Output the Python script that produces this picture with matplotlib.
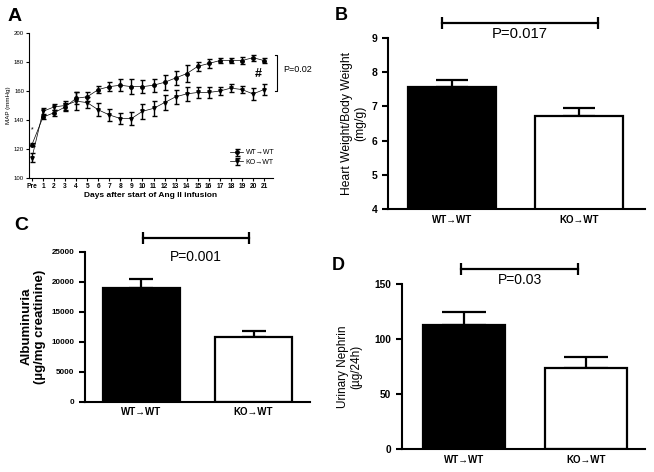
import numpy as np
import matplotlib.pyplot as plt

plt.rcParams['font.family'] = ['Liberation Sans', 'DejaVu Sans']

# panel A: MAP time course
days = ['Pre'] + [str(d) for d in range(1, 22)]
wt_map = [123, 142, 145, 149, 155, 156, 161, 163, 164, 163, 163, 164, 166, 169, 172, 177, 179, 181, 181, 181, 183, 181]
wt_err = [1, 1.5, 2, 3, 4, 3, 2.5, 3, 4, 5, 4.5, 4.5, 5, 5, 6, 3, 3, 2, 2, 2.5, 2, 2]
ko_map = [114, 146, 149, 150, 153, 152, 147, 143.5, 141, 141, 146, 148, 152, 156, 158, 159, 159, 160, 162, 161, 158, 161]
ko_err = [3, 2, 2, 3, 6, 4, 4.5, 4, 4, 4.5, 5, 5, 5, 5, 5, 4, 3.5, 3, 2.5, 2.5, 4, 3.5]

# bar panels
groups = ['WT\u2192WT', 'KO\u2192WT']
hw_mean = [7.57, 6.72]
hw_err = [0.19, 0.22]
alb_mean = [18850, 10850]
alb_err = [1550, 1000]
neph_mean = [113, 74]
neph_err = [11.5, 9.5]

fig = plt.figure(figsize=(6.54, 4.72), dpi=100)

# ---- A ----
axA = fig.add_axes([0.0443, 0.623, 0.373, 0.307])
x = np.arange(len(days))
axA.errorbar(x, wt_map, yerr=wt_err, fmt='o-', color='black', ms=2.5, lw=0.5,
             elinewidth=1.0, capsize=1.8, capthick=1.0, label='WT\u2192WT')
axA.errorbar(x, ko_map, yerr=ko_err, fmt='v-', color='black', ms=2.5, lw=0.5,
             elinewidth=1.0, capsize=1.8, capthick=1.0, label='KO\u2192WT')
axA.set_ylim(100, 200)
axA.set_xlim(-0.27, 21.8)
axA.set_yticks(np.arange(100, 201, 20))
axA.set_xticks(x)
axA.set_xticklabels(days, fontsize=4.8, fontweight='bold')
axA.tick_params(axis='y', labelsize=4.3, length=2.5, width=0.8, pad=1)
axA.tick_params(axis='x', length=2.5, width=0.8, pad=1.5)
for s in ['top', 'right']:
    axA.spines[s].set_visible(False)
for s in ['left', 'bottom']:
    axA.spines[s].set_linewidth(0.8)
axA.set_ylabel('MAP (mmHg)', fontsize=4.5, labelpad=2)
axA.set_xlabel('Days after start of Ang II infusion', fontsize=6, fontweight='bold', labelpad=1)
axA.plot([21.95, 22.17, 22.17, 21.95], [185, 185, 160, 160], color='black', lw=0.8, clip_on=False)
axA.text(22.7, 175, 'P=0.02', fontsize=6.5, va='center', ha='left')
axA.text(20.45, 172, '#', fontsize=9, fontweight='bold', ha='center', va='center')
axA.text(0, 133, '*', fontsize=5, ha='center', va='center')
axA.legend(loc='lower left', bbox_to_anchor=(0.8, 0.04), frameon=False, fontsize=5,
           handlelength=1.8, labelspacing=0.35, handletextpad=0.4)
fig.text(0.011, 0.955, 'A', fontsize=14, fontweight='bold', va='baseline')


def bar_panel(ax, means, errs, ylim, yticks, ylabel, ptext, bracket_y, bracket_x, gap,
              cap, xlim, width, tickfs, labfs, labweight, labpad, pfs):
    pos = np.arange(len(groups))
    ax.bar(pos, means, width=width, color=['black', 'white'], edgecolor='black', linewidth=1.6, zorder=2)
    ax.errorbar(pos, means, yerr=[[0, 0], errs], fmt='none', ecolor='black', elinewidth=1.6,
                capsize=cap, capthick=1.6, zorder=1)
    ax.set_xlim(*xlim)
    ax.set_ylim(*ylim)
    ax.set_yticks(yticks)
    ax.set_xticks(pos)
    ax.set_xticklabels(groups, fontsize=7, fontweight='bold')
    ax.tick_params(axis='x', length=0, pad=4)
    ax.tick_params(axis='y', length=4, width=1.5, labelsize=tickfs)
    for lab in ax.get_yticklabels():
        lab.set_fontweight('bold')
    for s in ['top', 'right']:
        ax.spines[s].set_visible(False)
    for s in ['left', 'bottom']:
        ax.spines[s].set_linewidth(1.5)
    ax.set_ylabel(ylabel, fontsize=labfs, fontweight=labweight, linespacing=1.1, labelpad=labpad)
    ax.plot(bracket_x, [bracket_y, bracket_y], color='black', lw=1.6, clip_on=False,
            marker='|', ms=8, mew=1.6)
    ax.annotate(ptext, (np.mean(bracket_x), bracket_y), xytext=(0, -gap), textcoords='offset points',
                fontsize=pfs, ha='center', va='top', annotation_clip=False)


# ---- B ----
axB = fig.add_axes([0.593, 0.557, 0.393, 0.3625])
bar_panel(axB, hw_mean, hw_err, (4, 9), [4, 5, 6, 7, 8, 9],
          'Heart Weight/Body Weight\n(mg/g)', 'P=0.017', 9.43, [-0.08, 1.15], 2.5,
          11.5, (-0.504, 1.52), 0.69, 7.5, 8.7, 'normal', 4, 10.7)
fig.text(0.512, 0.957, 'B', fontsize=13, fontweight='bold', va='baseline')

# ---- C ----
axC = fig.add_axes([0.130, 0.149, 0.344, 0.318])
bar_panel(axC, alb_mean, alb_err, (0, 25000), [0, 5000, 10000, 15000, 20000, 25000],
          'Albuminuria\n(\u00b5g/mg creatinine)', 'P=0.001', 27300, [0.013, 0.96], 9,
          8.3, (-0.504, 1.504), 0.69, 5.8, 9.5, 'bold', 4, 10)
fig.text(0.022, 0.513, 'C', fontsize=14, fontweight='bold', va='baseline')

# ---- D ----
axD = fig.add_axes([0.614, 0.0487, 0.372, 0.349])
bar_panel(axD, neph_mean, neph_err, (0, 150), [0, 50, 100, 150],
          'Urinary Nephrin\n(\u00b5g/24h)', 'P=0.03', 163.7, [-0.02, 0.93], 3,
          16, (-0.51, 1.48), 0.67, 7.3, 8.5, 'normal', 9, 10)
fig.text(0.508, 0.428, 'D', fontsize=13, fontweight='bold', va='baseline')

plt.savefig('out.png', dpi=100)
